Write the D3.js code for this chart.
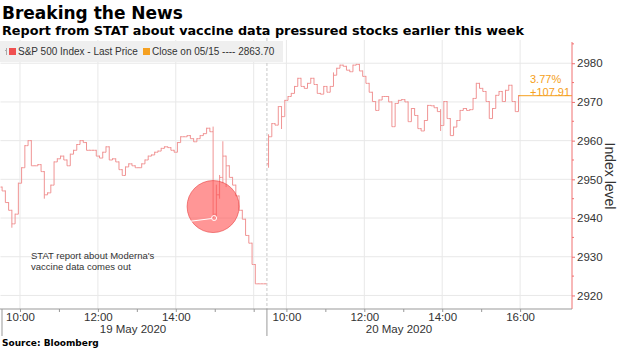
<!DOCTYPE html>
<html><head><meta charset="utf-8">
<script src="https://cdn.jsdelivr.net/npm/d3@7"></script>
<style>body{margin:0;background:#fff}svg{display:block}</style>
</head><body><svg id="c" width="620" height="348"></svg>
<script>
// ---- data ----
const days = ["19 May 2020", "20 May 2020"];
const yTicks = [2920, 2930, 2940, 2950, 2960, 2970, 2980];
const hourLabels = [["10:00", "12:00", "14:00"], ["10:00", "12:00", "14:00", "16:00"]];
const day1Open = 2948;
const day1Close = [2947, 2944, 2942, 2938.5, 2941, 2949, 2953, 2958.7, 2960, 2953.5,
  2953.5, 2953.8, 2952, 2946, 2946.5, 2948.5, 2954.5, 2955.3, 2956, 2955,
  2953.5, 2956.5, 2957.5, 2959, 2960, 2959.5, 2957.5, 2957.5, 2957.5, 2956,
  2955.5, 2957, 2958.4, 2955, 2955.3, 2954.5, 2952.5, 2951, 2953.2, 2954,
  2953.5, 2953, 2953, 2954, 2955, 2956, 2956.3, 2957, 2957.3, 2958,
  2958.4, 2958.2, 2957.5, 2957, 2959.5, 2961, 2961, 2961.3, 2960.5, 2959.7,
  2960.5, 2961.3, 2961.8, 2963.2, 2962.3, 2941, 2946, 2950.5, 2956, 2953.5,
  2950.5, 2948.5, 2945.7, 2942, 2939.7, 2935.5, 2933.5, 2928, 2923, 2923,
  2923, 2923];
const day2Open = 2954;
const day2Close = [2961, 2964.4, 2964, 2968.8, 2966.2, 2970.4, 2971.4, 2972.2, 2974, 2976.1,
  2974, 2973.5, 2974.8, 2976.1, 2974.5, 2972.2, 2972, 2974, 2972.5, 2974,
  2976.9, 2978.7, 2979.5, 2979.2, 2978.2, 2977.8, 2979.5, 2979.7, 2978, 2976.6,
  2974.8, 2972.5, 2970.1, 2967.8, 2970.5, 2971.4, 2971.4, 2970, 2963.6, 2969.6,
  2970.4, 2970.6, 2970, 2964.9, 2968.3, 2966.5, 2963.1, 2962.5, 2965.2, 2969.1,
  2969, 2968.5, 2967.5, 2963.9, 2970.1, 2965.7, 2961.3, 2963.5, 2965.2, 2967.8,
  2968.3, 2967.8, 2968, 2970.9, 2974.8, 2973.5, 2972.7, 2970.1, 2965.7, 2968.3,
  2971.7, 2972.7, 2970.1, 2973, 2974.3, 2970.1, 2967.5, 2971.61];
// extra high/low extremes: [day, bar, low, high]
const wicks = [[0, 3, 2937.5, 2942], [0, 65, 2940, 2963.5], [0, 66, 2940, 2948.5], [0, 67, 2945, 2951],
  [0, 68, 2949, 2959.7], [0, 69, 2948, 2956], [0, 13, 2945, 2952], [1, 0, 2953, 2961.5],
  [1, 4, 2963, 2968.8], [1, 20, 2975, 2977.5], [1, 53, 2962.5, 2968]];
const prevCloseLabel = "Close on 05/15 ---- 2863.70";
const seriesLabel = "S&P 500 Index - Last Price";
const lastPrice = 2971.61;
const changePct = "3.77%";
const changeAbs = "+107.91";
const noteLines = ["STAT report about Moderna's", "vaccine data comes out"];
const notePoint = 2940;

// ---- layout ----
const svg = d3.select("#c");
const pL = 0.5, pR = 572, pT = 40, pB = 309;
const dayLen = 6.84;           // session hours per day segment (09:30 -> ~16:20)
const x = d3.scaleLinear().domain([0, 14.672]).range([pL, pR]);
const y = d3.scaleLinear().domain([2916.5, 2986]).range([pB, pT]);
const u = (d, h) => d * dayLen + (h - 9.5);
const barColor = "#f09494";
const orange = "#f5a020";
const sans = "'Liberation Sans', Arial, sans-serif";

// gridlines
svg.append("g").selectAll("line").data(yTicks).join("line")
  .attr("x1", pL).attr("x2", pR).attr("y1", d => y(d)).attr("y2", d => y(d))
  .attr("stroke", "#e8e8e8");
const gridHours = [];
[0, 1].forEach(d => [10, 12, 14, 16].forEach(h => gridHours.push(u(d, h))));
svg.append("g").selectAll("line").data(gridHours).join("line")
  .attr("x1", d => x(d)).attr("x2", d => x(d)).attr("y1", pT).attr("y2", pB)
  .attr("stroke", "#e8e8e8");
// day separator
svg.append("line").attr("x1", x(dayLen)).attr("x2", x(dayLen)).attr("y1", pT - 2).attr("y2", pB)
  .attr("stroke", "#c8c8c8").attr("stroke-dasharray", "3,2");

// legend box
svg.append("rect").attr("x", 0).attr("y", 41).attr("width", 283).attr("height", 21).attr("fill", "#efefef");
const lg = svg.append("g").attr("font-family", sans).attr("font-size", 10).attr("fill", "#333");
lg.append("line").attr("x1", 6.5).attr("x2", 6.5).attr("y1", 48).attr("y2", 55).attr("stroke", "#aaa");
lg.append("line").attr("x1", 5).attr("x2", 6.5).attr("y1", 50.5).attr("y2", 50.5).attr("stroke", "#aaa");
lg.append("rect").attr("x", 9).attr("y", 48).attr("width", 7).attr("height", 7).attr("fill", "#f05050");
lg.append("text").attr("x", 18).attr("y", 55).text(seriesLabel);
lg.append("rect").attr("x", 143).attr("y", 48).attr("width", 7).attr("height", 7).attr("fill", orange);
lg.append("text").attr("x", 152).attr("y", 55).text(prevCloseLabel);

// OHLC bars
function bars(d, open0, closes) {
  return closes.map((c, i) => {
    const o = i === 0 ? open0 : closes[i - 1];
    let lo = Math.min(o, c), hi = Math.max(o, c);
    wicks.filter(w => w[0] === d && w[1] === i).forEach(w => { lo = Math.min(lo, w[2]); hi = Math.max(hi, w[3]); });
    return { d, i, o, c, lo, hi, t: d * dayLen + (i + 0.5) / 12 };
  });
}
const data = bars(0, day1Open, day1Close).concat(bars(1, day2Open, day2Close));
const bg = svg.append("g").attr("stroke", barColor).attr("stroke-width", 1).attr("fill", "none");
const bar = bg.selectAll("g").data(data).join("g");
bar.append("line").attr("x1", d => x(d.t)).attr("x2", d => x(d.t))
  .attr("y1", d => y(d.lo)).attr("y2", d => y(d.hi) - 0.5);
bar.append("line").attr("x1", d => x(d.t) - 1.6).attr("x2", d => x(d.t))
  .attr("y1", d => y(d.o)).attr("y2", d => y(d.o));
bar.append("line").attr("x1", d => x(d.t)).attr("x2", d => x(d.t) + 1.6)
  .attr("y1", d => y(d.c)).attr("y2", d => y(d.c));

// last price / close reference line
const lastT = data[data.length - 1].t;
svg.append("line").attr("x1", x(lastT)).attr("x2", pR).attr("y1", y(lastPrice)).attr("y2", y(lastPrice))
  .attr("stroke", orange).attr("stroke-width", 1);
const og = svg.append("g").attr("font-family", sans).attr("font-size", 11).attr("fill", orange);
og.append("text").attr("x", 530).attr("y", 83).text(changePct);
og.append("text").attr("x", 530).attr("y", 96).text(changeAbs);

// annotation circle
const bx = x(data[65].t) + 1, byv = y(notePoint);
svg.append("circle").attr("cx", bx - 1).attr("cy", byv - 11.5).attr("r", 26)
  .attr("fill", "#ff5050").attr("fill-opacity", 0.6).attr("stroke", "#e84040").attr("stroke-opacity", 0.6);
svg.append("line").attr("x1", bx - 2.5).attr("y1", byv + 0.5).attr("x2", bx - 26).attr("y2", byv + 3.5)
  .attr("stroke", "#fff").attr("stroke-width", 1);
svg.append("circle").attr("cx", bx).attr("cy", byv).attr("r", 2.5)
  .attr("fill", "none").attr("stroke", "#fff").attr("stroke-width", 1);
const ng = svg.append("g").attr("font-family", sans).attr("font-size", 9.5).attr("fill", "#333");
noteLines.forEach((t, k) => ng.append("text").attr("x", 31).attr("y", 259 + k * 10.5).text(t));

// right axis
const ay = svg.append("g").attr("transform", `translate(${pR},0)`)
  .call(d3.axisRight(y).tickValues(yTicks).tickSize(3).tickPadding(2).tickFormat(d3.format("d")));
ay.select(".domain").remove();
ay.selectAll(".tick line").attr("stroke", "#f07070");
ay.selectAll("text").attr("font-family", sans).attr("font-size", 11.5).attr("fill", "#333");
const minor = d3.range(2915, 2990, 10).filter(v => v > 2916.5 && v < 2986);
svg.append("g").selectAll("line").data(minor).join("line")
  .attr("x1", pR).attr("x2", pR + 2).attr("y1", d => y(d)).attr("y2", d => y(d)).attr("stroke", "#f07070");
svg.append("line").attr("x1", pR).attr("x2", pR).attr("y1", 42).attr("y2", pB)
  .attr("stroke", "#f07070");
svg.append("text").attr("transform", `translate(605,176) rotate(90)`).attr("text-anchor", "middle")
  .attr("font-family", sans).attr("font-size", 14).attr("fill", "#333").text("Index level");

// bottom axis
const tickU = [], labelMap = new Map();
[0, 1].forEach(d => {
  [10, 11, 12, 13, 14, 15, 16].forEach(h => tickU.push(u(d, h)));
  hourLabels[d].forEach(s => labelMap.set(u(d, +s.slice(0, 2)).toFixed(3), s));
});
const ax = svg.append("g").attr("transform", `translate(0,${pB})`)
  .call(d3.axisBottom(x).tickValues(tickU).tickSize(3).tickPadding(1)
    .tickFormat(v => labelMap.get(v.toFixed(3)) || ""));
ax.select(".domain").attr("d", `M0,0H${pR}`).attr("stroke", "#999");
ax.selectAll(".tick line").attr("stroke", "#999");
ax.selectAll("text").attr("font-family", sans).attr("font-size", 11.5).attr("fill", "#333");
svg.append("line").attr("x1", 2).attr("x2", 2).attr("y1", pB).attr("y2", 336).attr("stroke", "#999");
svg.append("line").attr("x1", x(dayLen)).attr("x2", x(dayLen)).attr("y1", pB).attr("y2", 336).attr("stroke", "#999");
const dl = svg.append("g").attr("font-family", sans).attr("font-size", 11.5).attr("fill", "#333").attr("text-anchor", "middle");
dl.append("text").attr("x", 133).attr("y", 333).text(days[0]);
dl.append("text").attr("x", 399).attr("y", 333).text(days[1]);

// titles
svg.append("text").attr("x", 2).attr("y", 18.5).attr("font-family", "'DejaVu Sans', sans-serif").attr("font-weight", "bold")
  .attr("font-size", 17).attr("fill", "#000").text("Breaking the News");
svg.append("text").attr("x", 2).attr("y", 35).attr("font-family", "'DejaVu Sans', sans-serif").attr("font-weight", "bold")
  .attr("font-size", 12.8).attr("fill", "#000").text("Report from STAT about vaccine data pressured stocks earlier this week");
svg.append("text").attr("x", 2).attr("y", 346).attr("font-family", "'DejaVu Sans', sans-serif").attr("font-weight", "bold")
  .attr("font-size", 9).attr("fill", "#000").text("Source: Bloomberg");
</script></body></html>
